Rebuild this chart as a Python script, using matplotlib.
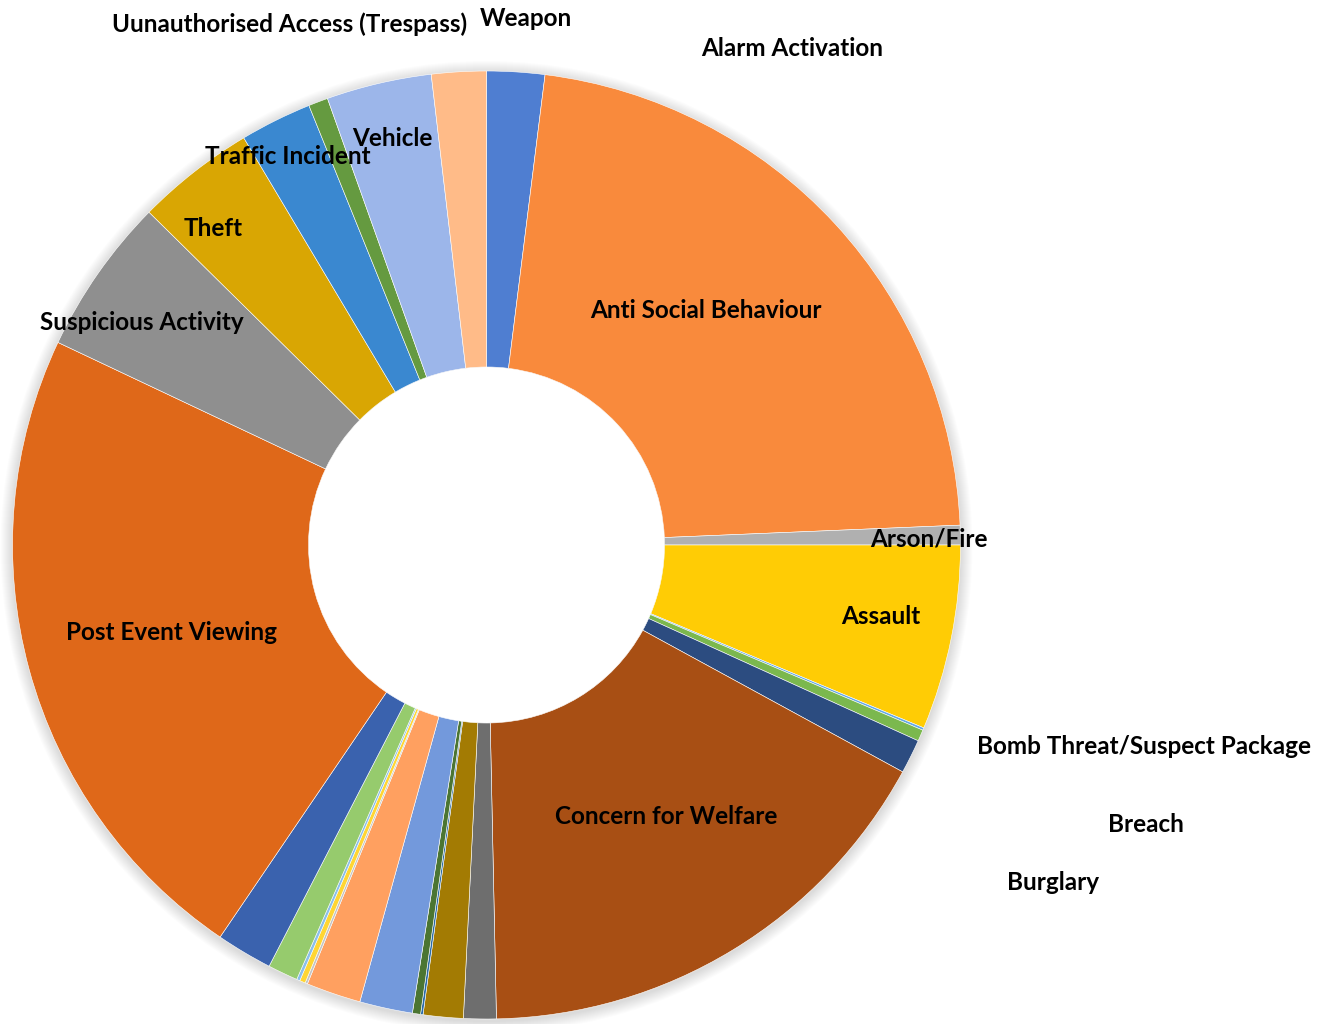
import matplotlib.pyplot as plt
import numpy as np
from matplotlib.patches import Circle

# incident categories, clockwise from 12 o'clock (alphabetical as in the source)
categories = [
    "Alarm Activation", "Anti Social Behaviour", "Arson/Fire", "Assault",
    "Bomb Threat/Suspect Package", "Breach", "Burglary", "Concern for Welfare",
    "Cat 9", "Cat 10", "Cat 11", "Cat 12", "Cat 13", "Cat 14", "Cat 15",
    "Cat 16", "Cat 17", "Cat 18", "Cat 19",
    "Post Event Viewing", "Suspicious Activity", "Theft", "Traffic Incident",
    "Uunauthorised Access (Trespass)", "Vehicle", "Weapon",
]
values = [
    7.1, 80.5, 2.4, 22.7,
    0.3, 1.4, 4.2, 60.2,
    4.0, 4.9, 0.3, 1.0, 6.5, 6.7, 0.3,
    0.7, 0.4, 3.7, 6.9,
    81.1, 19.3, 14.6, 8.8,
    2.4, 12.9, 6.7,
]
colors = [
    "#4F7ED1", "#F98A3C", "#B0B0B0", "#FFCC05",
    "#63A8E8", "#7BB84E", "#2C4C80", "#A84F14",
    "#6E6E6E", "#A37B03", "#2B6BA8", "#4B7532", "#7399DC", "#FFA060", "#C4C4C4",
    "#FFD633", "#8ABFEB", "#96CB6D", "#3A62AE",
    "#DF6819", "#8F8F8F", "#D9A603", "#3A88D0",
    "#659A40", "#9CB6EA", "#FFBB88",
]

# labels shown on the chart and where they sit (pixel coords of the picture)
label_pos = {
    "Uunauthorised Access (Trespass)": (290, 24),
    "Weapon": (526, 19),
    "Alarm Activation": (792, 48),
    "Vehicle": (392, 139),
    "Traffic Incident": (288, 156),
    "Theft": (213, 228),
    "Suspicious Activity": (142, 322),
    "Anti Social Behaviour": (706, 310),
    "Arson/Fire": (929, 539),
    "Assault": (881, 616),
    "Post Event Viewing": (171, 632),
    "Bomb Threat/Suspect Package": (1144, 747),
    "Breach": (1146, 824),
    "Burglary": (1053, 883),
    "Concern for Welfare": (666, 817),
}

W, H = 1320, 1024
cx, cy = 486.5, H - 545
R = 474
r_hole = 178

fig = plt.figure(figsize=(W / 100, H / 100), dpi=100)
ax = fig.add_axes([0, 0, 1, 1])

# soft shadow round the ring
for k in range(12, 0, -1):
    ax.add_patch(Circle((cx, cy - 2), R + k, color="black", alpha=0.012, lw=0, zorder=0))
ax.add_patch(Circle((cx, cy), r_hole, color="white", lw=0, zorder=0.5))
# faint inner shadow at the top of the hole
for k in range(8):
    ax.add_patch(Circle((cx, cy - 4 - k), r_hole - 2, color="white", alpha=0.25,
                        lw=0, zorder=0.6))

ax.pie(values, colors=colors, startangle=90, counterclock=False,
       center=(cx, cy), radius=R, frame=True,
       wedgeprops=dict(width=R - r_hole, edgecolor="white", linewidth=0.4))
ax.set_xlim(0, W)
ax.set_ylim(0, H)
ax.set_aspect("equal")
ax.axis("off")

for name, (px, py) in label_pos.items():
    ax.text(px, H - py, name, ha="center", va="center", fontsize=17.5,
            fontweight="bold", family=["Lato", "DejaVu Sans"], color="black")

fig.savefig("out.png", dpi=100)
